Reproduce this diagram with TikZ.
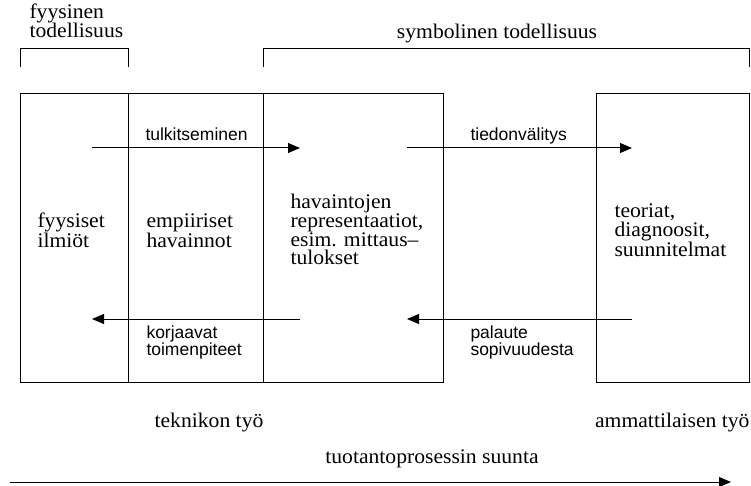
\documentclass[tikz,border=0pt]{standalone}
\usepackage{fontspec}
\setmainfont{Liberation Serif}[FakeStretch=1.04]
\newfontfamily\labelsans{Liberation Sans}
\usetikzlibrary{arrows.meta}
\begin{document}
\begin{tikzpicture}[x=1pt,y=-1pt,
  line width=1pt,
  panel/.style={draw,rectangle,inner sep=0pt,outer sep=0pt,minimum height=288pt,anchor=north west},
  serif/.style={font=\fontsize{20.8}{17.5}\selectfont,inner sep=0pt,align=left},
  sans/.style={font=\labelsans\fontsize{17.5}{17}\selectfont,inner sep=0pt,align=left},
  flow/.style={-{Triangle[length=12pt,width=10pt]}},
  bracket/.style={line width=1pt}]
\useasboundingbox (0,0) rectangle (751,486);

% panels
\node[panel,minimum width=108pt] (phys) at (20,94) {};
\node[panel,minimum width=135pt] (emp) at (128,94) {};
\node[panel,minimum width=180pt] (repr) at (263,94) {};
\node[panel,minimum width=153pt] (theo) at (596,94) {};

% brackets and their captions
\coordinate (b1a) at (20,67);  \coordinate (b1b) at (128,67);
\coordinate (b2a) at (263,67); \coordinate (b2b) at (749,67);
\draw[bracket] (b1a) -- ++(0,-18) -| (b1b);
\draw[bracket] (b2a) -- ++(0,-18) -| (b2b);
\node[serif,anchor=base west] (physlab) at (29,38) {fyysinen\\todellisuus};
\node[serif,anchor=base] (symlab) at (497,39) {symbolinen todellisuus};

% panel contents (base anchor sits on the last line)
\node[serif,anchor=base west] (t1) at (37,247) {fyysiset\\ilmiöt};
\node[serif,anchor=base west] (t2) at (146,247) {empiiriset\\havainnot};
\node[serif,anchor=base west] (t3) at (290,264) {havaintojen\\representaatiot,\\esim. mittaus–\\tulokset};
\node[serif,anchor=base west] (t4) at (614,256) {teoriat,\\diagnoosit,\\suunnitelmat};

% flows between panels
\coordinate (f1s) at (92,148);  \coordinate (f1e) at (300,148);
\coordinate (f2s) at (407,148); \coordinate (f2e) at (632,148);
\coordinate (r1s) at (300,319); \coordinate (r1e) at (92,319);
\coordinate (r2s) at (632,319); \coordinate (r2e) at (407,319);
\draw[flow] (f1s) -- (f1e);
\draw[flow] (f2s) -- (f2e);
\draw[flow] (r1s) -- (r1e);
\draw[flow] (r2s) -- (r2e);
\node[sans,anchor=base west] (l1) at (145,141) {tulkitseminen};
\node[sans,anchor=base west] (l2) at (470,141) {tiedonvälitys};
\node[sans,anchor=base west] (l3) at (146,355) {korjaavat\\toimenpiteet};
\node[sans,anchor=base west] (l4) at (470,355) {palaute\\sopivuudesta};

% work roles and process direction
\node[serif,anchor=base] (tech) at (209,427) {teknikon työ};
\node[serif,anchor=base east] (prof) at (750,427) {ammattilaisen työ};
\node[serif,anchor=base] (dir) at (432,463) {tuotantoprosessin suunta};
\coordinate (ds) at (10,482); \coordinate (de) at (731,482);
\draw[flow] (ds) -- (de);
\end{tikzpicture}
\end{document}
